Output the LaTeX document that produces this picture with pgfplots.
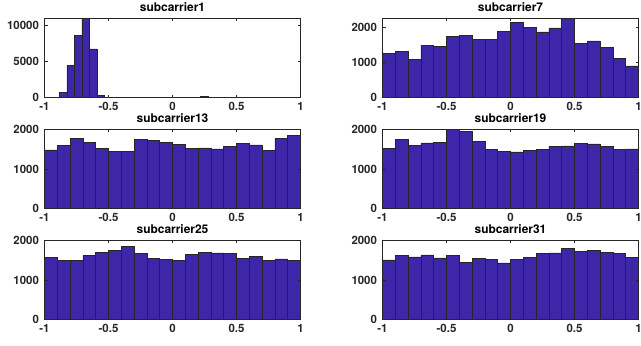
\documentclass[border=0pt]{standalone}
\usepackage{fontspec}
\setmainfont{TeX Gyre Heros}
\usepackage{pgfplots}
\pgfplotsset{compat=1.18}
\usepgfplotslibrary{groupplots}
\definecolor{barfill}{rgb}{0.2422,0.1504,0.6603}
\definecolor{axcol}{rgb}{0.15,0.15,0.15}
\pgfplotsset{
  histbar/.style={ybar interval, fill=barfill, draw=axcol, line width=0.5bp},
}
\begin{document}
\begin{tikzpicture}
\begin{groupplot}[
  group style={group size=2 by 3, horizontal sep=82bp, vertical sep=31.6bp},
  scale only axis, width=256bp, height=79.4bp,
  xmin=-1, xmax=1, ymin=0,
  xtick={-1,-0.5,0,0.5,1},
  xticklabels={-1,-0.5,0,0.5,1},
  tick align=inside,
  major tick length=3bp,
  axis line style={axcol, line width=0.6bp},
  every tick/.style={axcol, line width=0.6bp},
  tick label style={font=\bfseries\fontsize{11.5}{12}\selectfont, text=axcol},
  xticklabel style={yshift=-3.5bp, inner ysep=1bp, anchor=north},
  yticklabel style={xshift=-2bp},
  title style={font=\bfseries\fontsize{12}{13}\selectfont, yshift=-1.5bp, inner ysep=2bp},
  /pgf/number format/assume math mode=true,
  /pgf/number format/1000 sep={},
  scaled y ticks=false,
  ytick={0,1000,2000},
  axis on top,
]
\nextgroupplot[title=subcarrier1, ymax=10950, ytick={0,5000,10000}]
\addplot[histbar] coordinates {(-0.885,727) (-0.826,4455) (-0.767,8545) (-0.708,10950) (-0.649,6727) (-0.590,318) (-0.531,0)};
\addplot[histbar] coordinates {(0.217,180) (0.276,0)};

\nextgroupplot[title=subcarrier7, ymax=2244]
\addplot[histbar] coordinates {(-1.0,1258) (-0.9,1315) (-0.8,1089) (-0.7,1484) (-0.6,1455) (-0.5,1737) (-0.4,1765) (-0.3,1643) (-0.2,1643) (-0.1,1869) (0.0,2131) (0.1,1991) (0.2,1859) (0.3,1972) (0.4,2244) (0.5,1531) (0.6,1606) (0.7,1427) (0.8,1117) (0.9,901) (1.0,0)};

\nextgroupplot[title=subcarrier13, ymax=2000]
\addplot[histbar] coordinates {(-1.0,1483) (-0.9,1602) (-0.8,1771) (-0.7,1678) (-0.6,1517) (-0.5,1449) (-0.4,1449) (-0.3,1754) (-0.2,1720) (-0.1,1678) (0.0,1619) (0.1,1517) (0.2,1534) (0.3,1508) (0.4,1568) (0.5,1653) (0.6,1610) (0.7,1475) (0.8,1763) (0.9,1856) (1.0,0)};

\nextgroupplot[title=subcarrier19, ymax=2000]
\addplot[histbar] coordinates {(-1.0,1525) (-0.9,1737) (-0.8,1602) (-0.7,1661) (-0.6,1678) (-0.5,1995) (-0.4,1941) (-0.3,1695) (-0.2,1492) (-0.1,1441) (0.0,1432) (0.1,1466) (0.2,1500) (0.3,1576) (0.4,1585) (0.5,1653) (0.6,1636) (0.7,1576) (0.8,1500) (0.9,1508) (1.0,0)};

\nextgroupplot[title=subcarrier25, ymax=2000]
\addplot[histbar] coordinates {(-1.0,1563) (-0.9,1496) (-0.8,1496) (-0.7,1622) (-0.6,1697) (-0.5,1739) (-0.4,1849) (-0.3,1672) (-0.2,1546) (-0.1,1513) (0.0,1496) (0.1,1639) (0.2,1697) (0.3,1681) (0.4,1672) (0.5,1546) (0.6,1588) (0.7,1496) (0.8,1529) (0.9,1496) (1.0,0)};

\nextgroupplot[title=subcarrier31, ymax=2000]
\addplot[histbar] coordinates {(-1.0,1504) (-0.9,1622) (-0.8,1580) (-0.7,1630) (-0.6,1555) (-0.5,1613) (-0.4,1445) (-0.3,1546) (-0.2,1521) (-0.1,1429) (0.0,1513) (0.1,1571) (0.2,1672) (0.3,1681) (0.4,1790) (0.5,1723) (0.6,1739) (0.7,1697) (0.8,1664) (0.9,1571) (1.0,0)};
\end{groupplot}
\pgfresetboundingbox
\path ([shift={(-44.5bp,18.3bp)}]group c1r1.north west) rectangle ([shift={(596.5bp,-327.7bp)}]group c1r1.north west);
\end{tikzpicture}
\end{document}
